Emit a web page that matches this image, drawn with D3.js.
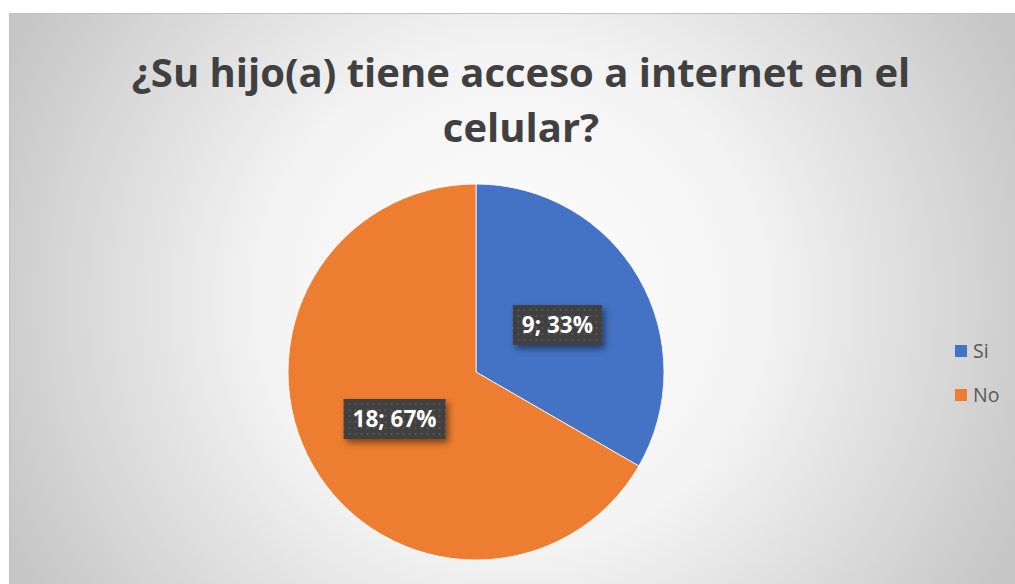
<!DOCTYPE html>
<html><head><meta charset="utf-8">
<script src="https://cdn.jsdelivr.net/npm/d3@7"></script>
<style>body{margin:0;background:#fff;}svg{display:block;}</style>
</head><body>
<script>
const categories = ["Si", "No"];
const values = [9, 18];
const percents = ["33%", "67%"];
const colors = ["#4472C4", "#ED7D31"];
const titleLines = ["¿Su hijo(a) tiene acceso a internet en el", "celular?"];

const W = 1015, H = 584;
const svg = d3.select("body").append("svg").attr("width", W).attr("height", H);
const defs = svg.append("defs");
const rg = defs.append("radialGradient").attr("id","bg").attr("gradientUnits","userSpaceOnUse")
  .attr("cx",512).attr("cy",300).attr("r",560);
rg.append("stop").attr("offset","0%").attr("stop-color","#ffffff");
rg.append("stop").attr("offset","45%").attr("stop-color","#f3f3f3");
rg.append("stop").attr("offset","100%").attr("stop-color","#c6c6c6");
const pat = defs.append("pattern").attr("id","dots").attr("width",6).attr("height",6).attr("patternUnits","userSpaceOnUse");
pat.append("rect").attr("width",6).attr("height",6).attr("fill","#404040");
pat.append("rect").attr("x",2).attr("y",2).attr("width",2).attr("height",2).attr("fill","#555555");
const flt = defs.append("filter").attr("id","sh").attr("x","-20%").attr("y","-20%").attr("width","150%").attr("height","160%");
flt.append("feDropShadow").attr("dx",3).attr("dy",4).attr("stdDeviation",3).attr("flood-color","#000").attr("flood-opacity",0.45);

svg.append("rect").attr("x",9.5).attr("y",13.5).attr("width",W).attr("height",H)
  .attr("fill","url(#bg)").attr("stroke","#c0c0c0").attr("stroke-width",1);

const title = svg.append("text").attr("text-anchor","middle")
  .attr("font-family","'Open Sans', sans-serif").attr("font-weight","bold")
  .attr("font-size",40).attr("fill","#404040");
titleLines.forEach((t,i)=>title.append("tspan").attr("x",521).attr("y",87 + i*55).text(t));

const cx = 476, cy = 372, R = 188;
const pie = d3.pie().sort(null).value(d=>d)(values);
const arc = d3.arc().innerRadius(0).outerRadius(R);
const g = svg.append("g").attr("transform",`translate(${cx},${cy})`);
g.selectAll("path").data(pie).join("path").attr("d",arc)
  .attr("fill",(d,i)=>colors[i]).attr("stroke","#ffffff").attr("stroke-width",0.8);

const labelArc = d3.arc().innerRadius(R/2).outerRadius(R/2);
pie.forEach((d,i)=>{
  const [x,y] = labelArc.centroid(d);
  const lg = g.append("g").attr("transform",`translate(${x},${y})`);
  const txt = `${values[i]}; ${percents[i]}`;
  const t = lg.append("text").attr("text-anchor","middle").attr("dy","0.36em")
    .attr("font-family","'Open Sans', sans-serif").attr("font-weight","bold")
    .attr("font-size",22.5).attr("fill","#ffffff").text(txt);
  const bb = t.node().getBBox();
  lg.insert("rect","text").attr("x",bb.x-9).attr("y",-20).attr("width",bb.width+18).attr("height",40)
    .attr("fill","url(#dots)").attr("filter","url(#sh)");
});

const leg = svg.append("g");
categories.forEach((c,i)=>{
  const y = 351 + i*44;
  leg.append("rect").attr("x",955).attr("y",y-6).attr("width",12).attr("height",12).attr("fill",colors[i]);
  leg.append("text").attr("x",973).attr("y",y).attr("dy","0.36em")
    .attr("font-family","'Open Sans', sans-serif").attr("font-size",19.5).attr("fill","#595959").text(c);
});
</script>
</body></html>
